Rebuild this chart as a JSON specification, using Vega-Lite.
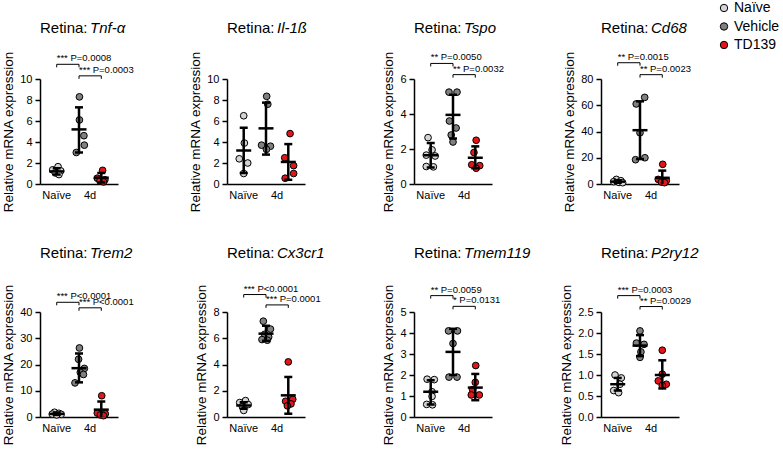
{
  "$schema": "https://vega.github.io/schema/vega-lite/v6.json",
  "padding": {"left": 1, "top": 1, "right": 5, "bottom": 5},
  "datasets": {
    "pts": [
      {"gene":"Tnf-α","group":"Naïve","value":1.65,"jitter":0.3},
      {"gene":"Tnf-α","group":"Naïve","value":1.35,"jitter":-0.9},
      {"gene":"Tnf-α","group":"Naïve","value":1.25,"jitter":0.9},
      {"gene":"Tnf-α","group":"Naïve","value":1.05,"jitter":-0.3},
      {"gene":"Tnf-α","group":"Naïve","value":0.9,"jitter":0.5},
      {"gene":"Tnf-α","group":"Vehicle","value":8.3,"jitter":0.1},
      {"gene":"Tnf-α","group":"Vehicle","value":6.1,"jitter":0.1},
      {"gene":"Tnf-α","group":"Vehicle","value":4.6,"jitter":1.1},
      {"gene":"Tnf-α","group":"Vehicle","value":3.7,"jitter":1.2},
      {"gene":"Tnf-α","group":"Vehicle","value":3.0,"jitter":-0.6},
      {"gene":"Tnf-α","group":"TD139","value":1.3,"jitter":0.3},
      {"gene":"Tnf-α","group":"TD139","value":0.55,"jitter":-0.9},
      {"gene":"Tnf-α","group":"TD139","value":0.4,"jitter":0.8},
      {"gene":"Tnf-α","group":"TD139","value":0.3,"jitter":-0.3},
      {"gene":"Tnf-α","group":"TD139","value":0.2,"jitter":0.5},
      {"gene":"Il-1ß","group":"Naïve","value":6.5,"jitter":0},
      {"gene":"Il-1ß","group":"Naïve","value":3.9,"jitter":0.15},
      {"gene":"Il-1ß","group":"Naïve","value":2.4,"jitter":-1.0},
      {"gene":"Il-1ß","group":"Naïve","value":2.0,"jitter":0.9},
      {"gene":"Il-1ß","group":"Naïve","value":1.0,"jitter":0},
      {"gene":"Il-1ß","group":"Vehicle","value":8.35,"jitter":0.15},
      {"gene":"Il-1ß","group":"Vehicle","value":7.6,"jitter":0.4},
      {"gene":"Il-1ß","group":"Vehicle","value":3.7,"jitter":-1.0},
      {"gene":"Il-1ß","group":"Vehicle","value":3.6,"jitter":1.0},
      {"gene":"Il-1ß","group":"Vehicle","value":3.3,"jitter":0.1},
      {"gene":"Il-1ß","group":"TD139","value":4.8,"jitter":0.4},
      {"gene":"Il-1ß","group":"TD139","value":2.5,"jitter":-0.8},
      {"gene":"Il-1ß","group":"TD139","value":1.75,"jitter":1.2},
      {"gene":"Il-1ß","group":"TD139","value":1.0,"jitter":1.2},
      {"gene":"Il-1ß","group":"TD139","value":0.55,"jitter":-0.7},
      {"gene":"Tspo","group":"Naïve","value":2.65,"jitter":-0.6},
      {"gene":"Tspo","group":"Naïve","value":1.95,"jitter":0.3},
      {"gene":"Tspo","group":"Naïve","value":1.65,"jitter":-1.0},
      {"gene":"Tspo","group":"Naïve","value":1.6,"jitter":1.0},
      {"gene":"Tspo","group":"Naïve","value":1.0,"jitter":-1.0},
      {"gene":"Tspo","group":"Naïve","value":0.98,"jitter":0.6},
      {"gene":"Tspo","group":"Vehicle","value":5.25,"jitter":-0.9},
      {"gene":"Tspo","group":"Vehicle","value":5.25,"jitter":0.9},
      {"gene":"Tspo","group":"Vehicle","value":3.6,"jitter":-0.8},
      {"gene":"Tspo","group":"Vehicle","value":3.2,"jitter":0.7},
      {"gene":"Tspo","group":"Vehicle","value":2.8,"jitter":-0.4},
      {"gene":"Tspo","group":"Vehicle","value":2.4,"jitter":0},
      {"gene":"Tspo","group":"TD139","value":2.5,"jitter":0.2},
      {"gene":"Tspo","group":"TD139","value":1.8,"jitter":-0.3},
      {"gene":"Tspo","group":"TD139","value":1.1,"jitter":-0.8},
      {"gene":"Tspo","group":"TD139","value":1.05,"jitter":1.0},
      {"gene":"Tspo","group":"TD139","value":0.9,"jitter":0.2},
      {"gene":"Cd68","group":"Naïve","value":3.5,"jitter":-0.3},
      {"gene":"Cd68","group":"Naïve","value":2.5,"jitter":0.7},
      {"gene":"Cd68","group":"Naïve","value":1.8,"jitter":-0.9},
      {"gene":"Cd68","group":"Naïve","value":1.2,"jitter":0.3},
      {"gene":"Cd68","group":"Naïve","value":1.0,"jitter":1.1},
      {"gene":"Cd68","group":"Vehicle","value":66,"jitter":1.05},
      {"gene":"Cd68","group":"Vehicle","value":61,"jitter":-0.85},
      {"gene":"Cd68","group":"Vehicle","value":39,"jitter":0},
      {"gene":"Cd68","group":"Vehicle","value":20,"jitter":1.1},
      {"gene":"Cd68","group":"Vehicle","value":18.5,"jitter":-1.0},
      {"gene":"Cd68","group":"TD139","value":15,"jitter":0.1},
      {"gene":"Cd68","group":"TD139","value":3.5,"jitter":-0.9},
      {"gene":"Cd68","group":"TD139","value":2.5,"jitter":0.9},
      {"gene":"Cd68","group":"TD139","value":1.5,"jitter":-0.2},
      {"gene":"Cd68","group":"TD139","value":1.0,"jitter":0.5},
      {"gene":"Trem2","group":"Naïve","value":1.8,"jitter":-0.5},
      {"gene":"Trem2","group":"Naïve","value":1.4,"jitter":0.5},
      {"gene":"Trem2","group":"Naïve","value":1.1,"jitter":-1.0},
      {"gene":"Trem2","group":"Naïve","value":1.0,"jitter":1.0},
      {"gene":"Trem2","group":"Naïve","value":0.8,"jitter":0},
      {"gene":"Trem2","group":"Vehicle","value":26.3,"jitter":0.1},
      {"gene":"Trem2","group":"Vehicle","value":22,"jitter":-0.1},
      {"gene":"Trem2","group":"Vehicle","value":18.5,"jitter":1.2},
      {"gene":"Trem2","group":"Vehicle","value":17,"jitter":0.3},
      {"gene":"Trem2","group":"Vehicle","value":16.2,"jitter":1.0},
      {"gene":"Trem2","group":"Vehicle","value":13,"jitter":-0.9},
      {"gene":"Trem2","group":"TD139","value":8.1,"jitter":0.1},
      {"gene":"Trem2","group":"TD139","value":1.5,"jitter":-0.9},
      {"gene":"Trem2","group":"TD139","value":1.2,"jitter":0.9},
      {"gene":"Trem2","group":"TD139","value":0.8,"jitter":-0.2},
      {"gene":"Trem2","group":"TD139","value":0.5,"jitter":0.5},
      {"gene":"Cx3cr1","group":"Naïve","value":1.25,"jitter":0.4},
      {"gene":"Cx3cr1","group":"Naïve","value":1.1,"jitter":-0.9},
      {"gene":"Cx3cr1","group":"Naïve","value":0.95,"jitter":1.0},
      {"gene":"Cx3cr1","group":"Naïve","value":0.8,"jitter":-0.3},
      {"gene":"Cx3cr1","group":"Naïve","value":0.5,"jitter":0},
      {"gene":"Cx3cr1","group":"Vehicle","value":7.3,"jitter":-0.6},
      {"gene":"Cx3cr1","group":"Vehicle","value":6.7,"jitter":1.0},
      {"gene":"Cx3cr1","group":"Vehicle","value":6.3,"jitter":-0.3},
      {"gene":"Cx3cr1","group":"Vehicle","value":6.1,"jitter":0.6},
      {"gene":"Cx3cr1","group":"Vehicle","value":5.9,"jitter":-0.9},
      {"gene":"Cx3cr1","group":"Vehicle","value":5.85,"jitter":0.3},
      {"gene":"Cx3cr1","group":"TD139","value":4.2,"jitter":0},
      {"gene":"Cx3cr1","group":"TD139","value":1.35,"jitter":1.0},
      {"gene":"Cx3cr1","group":"TD139","value":1.2,"jitter":-0.6},
      {"gene":"Cx3cr1","group":"TD139","value":1.0,"jitter":0.6},
      {"gene":"Cx3cr1","group":"TD139","value":0.85,"jitter":-0.2},
      {"gene":"Tmem119","group":"Naïve","value":1.8,"jitter":-0.8},
      {"gene":"Tmem119","group":"Naïve","value":1.78,"jitter":0.8},
      {"gene":"Tmem119","group":"Naïve","value":1.2,"jitter":0.3},
      {"gene":"Tmem119","group":"Naïve","value":0.98,"jitter":0.3},
      {"gene":"Tmem119","group":"Naïve","value":0.6,"jitter":-0.9},
      {"gene":"Tmem119","group":"Naïve","value":0.58,"jitter":0.4},
      {"gene":"Tmem119","group":"Vehicle","value":4.1,"jitter":-1.0},
      {"gene":"Tmem119","group":"Vehicle","value":4.1,"jitter":1.0},
      {"gene":"Tmem119","group":"Vehicle","value":3.5,"jitter":0},
      {"gene":"Tmem119","group":"Vehicle","value":1.9,"jitter":-0.9},
      {"gene":"Tmem119","group":"Vehicle","value":1.9,"jitter":0.9},
      {"gene":"Tmem119","group":"TD139","value":2.45,"jitter":0.1},
      {"gene":"Tmem119","group":"TD139","value":1.65,"jitter":0},
      {"gene":"Tmem119","group":"TD139","value":1.3,"jitter":-0.6},
      {"gene":"Tmem119","group":"TD139","value":1.05,"jitter":-0.9},
      {"gene":"Tmem119","group":"TD139","value":1.05,"jitter":0.9},
      {"gene":"P2ry12","group":"Naïve","value":1.0,"jitter":-0.6},
      {"gene":"P2ry12","group":"Naïve","value":0.93,"jitter":0.8},
      {"gene":"P2ry12","group":"Naïve","value":0.78,"jitter":0.5},
      {"gene":"P2ry12","group":"Naïve","value":0.63,"jitter":-0.9},
      {"gene":"P2ry12","group":"Naïve","value":0.58,"jitter":0.2},
      {"gene":"P2ry12","group":"Vehicle","value":2.05,"jitter":0},
      {"gene":"P2ry12","group":"Vehicle","value":1.76,"jitter":-0.8},
      {"gene":"P2ry12","group":"Vehicle","value":1.73,"jitter":0.9},
      {"gene":"P2ry12","group":"Vehicle","value":1.55,"jitter":0.2},
      {"gene":"P2ry12","group":"Vehicle","value":1.42,"jitter":0},
      {"gene":"P2ry12","group":"TD139","value":1.59,"jitter":0},
      {"gene":"P2ry12","group":"TD139","value":1.02,"jitter":0},
      {"gene":"P2ry12","group":"TD139","value":0.86,"jitter":-0.9},
      {"gene":"P2ry12","group":"TD139","value":0.78,"jitter":0.9},
      {"gene":"P2ry12","group":"TD139","value":0.75,"jitter":0}
    ],
    "summary": [
      {"gene":"Tnf-α","group":"Naïve","mean":1.2,"lo":0.9,"hi":1.5},
      {"gene":"Tnf-α","group":"Vehicle","mean":5.2,"lo":3.0,"hi":7.3},
      {"gene":"Tnf-α","group":"TD139","mean":0.6,"lo":0.15,"hi":1.05},
      {"gene":"Il-1ß","group":"Naïve","mean":3.2,"lo":1.05,"hi":5.35},
      {"gene":"Il-1ß","group":"Vehicle","mean":5.3,"lo":2.8,"hi":7.75},
      {"gene":"Il-1ß","group":"TD139","mean":2.1,"lo":0.4,"hi":3.8},
      {"gene":"Tspo","group":"Naïve","mean":1.65,"lo":0.95,"hi":2.35},
      {"gene":"Tspo","group":"Vehicle","mean":3.95,"lo":2.6,"hi":5.1},
      {"gene":"Tspo","group":"TD139","mean":1.5,"lo":0.9,"hi":2.15},
      {"gene":"Cd68","group":"Naïve","mean":1.8,"lo":0.8,"hi":2.8},
      {"gene":"Cd68","group":"Vehicle","mean":41,"lo":19,"hi":63},
      {"gene":"Cd68","group":"TD139","mean":4.7,"lo":-1.0,"hi":10.2},
      {"gene":"Trem2","group":"Naïve","mean":1.2,"lo":0.8,"hi":1.6},
      {"gene":"Trem2","group":"Vehicle","mean":18.6,"lo":13.2,"hi":24.2},
      {"gene":"Trem2","group":"TD139","mean":2.8,"lo":-0.4,"hi":5.9},
      {"gene":"Cx3cr1","group":"Naïve","mean":0.88,"lo":0.62,"hi":1.12},
      {"gene":"Cx3cr1","group":"Vehicle","mean":6.35,"lo":5.8,"hi":6.95},
      {"gene":"Cx3cr1","group":"TD139","mean":1.65,"lo":0.25,"hi":3.05},
      {"gene":"Tmem119","group":"Naïve","mean":1.2,"lo":0.6,"hi":1.75},
      {"gene":"Tmem119","group":"Vehicle","mean":3.1,"lo":2.0,"hi":4.2},
      {"gene":"Tmem119","group":"TD139","mean":1.4,"lo":0.8,"hi":2.05},
      {"gene":"P2ry12","group":"Naïve","mean":0.78,"lo":0.63,"hi":0.93},
      {"gene":"P2ry12","group":"Vehicle","mean":1.7,"lo":1.45,"hi":1.95},
      {"gene":"P2ry12","group":"TD139","mean":1.0,"lo":0.68,"hi":1.35}
    ],
    "ann": [
      {"gene":"Tnf-α","from":"Naïve","to":"Vehicle","y":11.4,"label":"*** P=0.0008"},
      {"gene":"Tnf-α","from":"Vehicle","to":"TD139","y":10.3,"label":"*** P=0.0003"},
      {"gene":"Tspo","from":"Naïve","to":"Vehicle","y":6.89,"label":"** P=0.0050"},
      {"gene":"Tspo","from":"Vehicle","to":"TD139","y":6.25,"label":"** P=0.0032"},
      {"gene":"Cd68","from":"Naïve","to":"Vehicle","y":92.4,"label":"** P=0.0015"},
      {"gene":"Cd68","from":"Vehicle","to":"TD139","y":83.3,"label":"** P=0.0023"},
      {"gene":"Trem2","from":"Naïve","to":"Vehicle","y":43.7,"label":"*** P<0.0001"},
      {"gene":"Trem2","from":"Vehicle","to":"TD139","y":41.6,"label":"*** P<0.0001"},
      {"gene":"Cx3cr1","from":"Naïve","to":"Vehicle","y":9.33,"label":"*** P<0.0001"},
      {"gene":"Cx3cr1","from":"Vehicle","to":"TD139","y":8.54,"label":"*** P=0.0001"},
      {"gene":"Tmem119","from":"Naïve","to":"Vehicle","y":5.78,"label":"** P=0.0059"},
      {"gene":"Tmem119","from":"Vehicle","to":"TD139","y":5.27,"label":"* P=0.0131"},
      {"gene":"P2ry12","from":"Naïve","to":"Vehicle","y":2.89,"label":"*** P=0.0003"},
      {"gene":"P2ry12","from":"Vehicle","to":"TD139","y":2.63,"label":"** P=0.0029"}
    ]
  },
  "columns": 4,
  "spacing": {"row": 128, "column": 109},
  "bounds": "flush",
  "resolve": {"scale": {"x": "independent", "y": "independent", "xOffset": "independent"}},
  "concat": [
    {
      "width": 78, "height": 105,
      "title": {"text": "Retina:", "subtitle": "\u200b\u00a0\u00a0\u00a0\u00a0\u00a0\u00a0\u00a0\u00a0\u00a0\u00a0\u00a0\u00a0Tnf-α", "offset": 15},
      "layer": [
        {"data": {"name": "pts"}, "transform": [{"filter": "datum.gene == 'Tnf-α'"}],
         "mark": {"type": "circle", "size": 45, "stroke": "black", "strokeWidth": 1, "opacity": 1},
         "encoding": {
           "x": {"field": "group", "type": "nominal", "scale": {"type": "band", "domain": ["Naïve","Vehicle","TD139"], "paddingInner": 0.5, "paddingOuter": 0.5}, "axis": {"title": null, "labelExpr": "datum.value == 'Naïve' ? 'Naïve' : datum.value == 'Vehicle' ? '4d' : ''", "labelOffset": {"condition": {"test": "datum.value == 'Vehicle'", "value": 11}, "value": 0}}},
           "xOffset": {"field": "jitter", "type": "quantitative", "scale": {"domain": [-1.25, 1.25]}},
           "y": {"field": "value", "type": "quantitative", "scale": {"domain": [0, 10], "nice": false}, "axis": {"title": "Relative mRNA expression", "values": [0,2,4,6,8,10], "tickCount": 20, "format": "d", "labelOverlap": false}},
           "color": {"field": "group", "type": "nominal", "scale": {"domain": ["Naïve","Vehicle","TD139"], "range": ["#d4d4d4","#808080","#e3151b"]}, "legend": {"orient": "none", "legendX": 677, "legendY": -78, "title": null}}
         }},
        {"data": {"name": "summary"}, "transform": [{"filter": "datum.gene == 'Tnf-α'"}],
         "mark": {"type": "rule", "strokeWidth": 2.5, "color": "black", "clip": true},
         "encoding": {"x": {"field": "group", "type": "nominal"}, "y": {"field": "lo", "type": "quantitative"}, "y2": {"field": "hi"}}},
        {"data": {"name": "summary"}, "transform": [{"filter": "datum.gene == 'Tnf-α'"}, {"fold": ["lo", "hi"], "as": ["end", "v"]}],
         "mark": {"type": "tick", "size": 8, "thickness": 2.5, "color": "black", "opacity": 1, "clip": true},
         "encoding": {"x": {"field": "group", "type": "nominal"}, "y": {"field": "v", "type": "quantitative"}}},
        {"data": {"name": "summary"}, "transform": [{"filter": "datum.gene == 'Tnf-α'"}],
         "mark": {"type": "tick", "size": 15, "thickness": 2.5, "color": "black", "opacity": 1},
         "encoding": {"x": {"field": "group", "type": "nominal"}, "y": {"field": "mean", "type": "quantitative"}}},
        {"data": {"name": "ann"}, "transform": [{"filter": "datum.gene == 'Tnf-α'"}],
         "mark": {"type": "rule", "strokeWidth": 1, "color": "black"},
         "encoding": {"x": {"field": "from", "type": "nominal"}, "x2": {"field": "to"}, "y": {"field": "y", "type": "quantitative"}}},
        {"data": {"name": "ann"}, "transform": [{"filter": "datum.gene == 'Tnf-α'"}, {"fold": ["from", "to"], "as": ["side", "g"]}],
         "mark": {"type": "point", "shape": "M0,0L0,1", "size": 36, "stroke": "black", "strokeWidth": 1, "filled": false, "opacity": 1},
         "encoding": {"x": {"field": "g", "type": "nominal"}, "y": {"field": "y", "type": "quantitative"}}},
        {"data": {"name": "ann"}, "transform": [{"filter": "datum.gene == 'Tnf-α'"}],
         "mark": {"type": "text", "align": "left", "baseline": "bottom", "dy": -1, "fontSize": 9.5, "color": "black"},
         "encoding": {"x": {"field": "from", "type": "nominal"}, "y": {"field": "y", "type": "quantitative"}, "text": {"field": "label"}}}
      ]
    },
    {
      "width": 78, "height": 105,
      "title": {"text": "Retina:", "subtitle": "\u200b\u00a0\u00a0\u00a0\u00a0\u00a0\u00a0\u00a0\u00a0\u00a0\u00a0\u00a0\u00a0Il-1ß", "offset": 15},
      "layer": [
        {"data": {"name": "pts"}, "transform": [{"filter": "datum.gene == 'Il-1ß'"}],
         "mark": {"type": "circle", "size": 45, "stroke": "black", "strokeWidth": 1, "opacity": 1},
         "encoding": {
           "x": {"field": "group", "type": "nominal", "scale": {"type": "band", "domain": ["Naïve","Vehicle","TD139"], "paddingInner": 0.5, "paddingOuter": 0.5}, "axis": {"title": null, "labelExpr": "datum.value == 'Naïve' ? 'Naïve' : datum.value == 'Vehicle' ? '4d' : ''", "labelOffset": {"condition": {"test": "datum.value == 'Vehicle'", "value": 11}, "value": 0}}},
           "xOffset": {"field": "jitter", "type": "quantitative", "scale": {"domain": [-1.25, 1.25]}},
           "y": {"field": "value", "type": "quantitative", "scale": {"domain": [0, 10], "nice": false}, "axis": {"title": "Relative mRNA expression", "values": [0,2,4,6,8,10], "tickCount": 20, "format": "d", "labelOverlap": false}},
           "color": {"field": "group", "type": "nominal"}
         }},
        {"data": {"name": "summary"}, "transform": [{"filter": "datum.gene == 'Il-1ß'"}],
         "mark": {"type": "rule", "strokeWidth": 2.5, "color": "black", "clip": true},
         "encoding": {"x": {"field": "group", "type": "nominal"}, "y": {"field": "lo", "type": "quantitative"}, "y2": {"field": "hi"}}},
        {"data": {"name": "summary"}, "transform": [{"filter": "datum.gene == 'Il-1ß'"}, {"fold": ["lo", "hi"], "as": ["end", "v"]}],
         "mark": {"type": "tick", "size": 8, "thickness": 2.5, "color": "black", "opacity": 1, "clip": true},
         "encoding": {"x": {"field": "group", "type": "nominal"}, "y": {"field": "v", "type": "quantitative"}}},
        {"data": {"name": "summary"}, "transform": [{"filter": "datum.gene == 'Il-1ß'"}],
         "mark": {"type": "tick", "size": 15, "thickness": 2.5, "color": "black", "opacity": 1},
         "encoding": {"x": {"field": "group", "type": "nominal"}, "y": {"field": "mean", "type": "quantitative"}}}
      ]
    },
    {
      "width": 78, "height": 105,
      "title": {"text": "Retina:", "subtitle": "\u200b\u00a0\u00a0\u00a0\u00a0\u00a0\u00a0\u00a0\u00a0\u00a0\u00a0\u00a0\u00a0Tspo", "offset": 15},
      "layer": [
        {"data": {"name": "pts"}, "transform": [{"filter": "datum.gene == 'Tspo'"}],
         "mark": {"type": "circle", "size": 45, "stroke": "black", "strokeWidth": 1, "opacity": 1},
         "encoding": {
           "x": {"field": "group", "type": "nominal", "scale": {"type": "band", "domain": ["Naïve","Vehicle","TD139"], "paddingInner": 0.5, "paddingOuter": 0.5}, "axis": {"title": null, "labelExpr": "datum.value == 'Naïve' ? 'Naïve' : datum.value == 'Vehicle' ? '4d' : ''", "labelOffset": {"condition": {"test": "datum.value == 'Vehicle'", "value": 11}, "value": 0}}},
           "xOffset": {"field": "jitter", "type": "quantitative", "scale": {"domain": [-1.25, 1.25]}},
           "y": {"field": "value", "type": "quantitative", "scale": {"domain": [0, 6], "nice": false}, "axis": {"title": "Relative mRNA expression", "values": [0,2,4,6], "tickCount": 20, "format": "d", "labelOverlap": false}},
           "color": {"field": "group", "type": "nominal"}
         }},
        {"data": {"name": "summary"}, "transform": [{"filter": "datum.gene == 'Tspo'"}],
         "mark": {"type": "rule", "strokeWidth": 2.5, "color": "black", "clip": true},
         "encoding": {"x": {"field": "group", "type": "nominal"}, "y": {"field": "lo", "type": "quantitative"}, "y2": {"field": "hi"}}},
        {"data": {"name": "summary"}, "transform": [{"filter": "datum.gene == 'Tspo'"}, {"fold": ["lo", "hi"], "as": ["end", "v"]}],
         "mark": {"type": "tick", "size": 8, "thickness": 2.5, "color": "black", "opacity": 1, "clip": true},
         "encoding": {"x": {"field": "group", "type": "nominal"}, "y": {"field": "v", "type": "quantitative"}}},
        {"data": {"name": "summary"}, "transform": [{"filter": "datum.gene == 'Tspo'"}],
         "mark": {"type": "tick", "size": 15, "thickness": 2.5, "color": "black", "opacity": 1},
         "encoding": {"x": {"field": "group", "type": "nominal"}, "y": {"field": "mean", "type": "quantitative"}}},
        {"data": {"name": "ann"}, "transform": [{"filter": "datum.gene == 'Tspo'"}],
         "mark": {"type": "rule", "strokeWidth": 1, "color": "black"},
         "encoding": {"x": {"field": "from", "type": "nominal"}, "x2": {"field": "to"}, "y": {"field": "y", "type": "quantitative"}}},
        {"data": {"name": "ann"}, "transform": [{"filter": "datum.gene == 'Tspo'"}, {"fold": ["from", "to"], "as": ["side", "g"]}],
         "mark": {"type": "point", "shape": "M0,0L0,1", "size": 36, "stroke": "black", "strokeWidth": 1, "filled": false, "opacity": 1},
         "encoding": {"x": {"field": "g", "type": "nominal"}, "y": {"field": "y", "type": "quantitative"}}},
        {"data": {"name": "ann"}, "transform": [{"filter": "datum.gene == 'Tspo'"}],
         "mark": {"type": "text", "align": "left", "baseline": "bottom", "dy": -1, "fontSize": 9.5, "color": "black"},
         "encoding": {"x": {"field": "from", "type": "nominal"}, "y": {"field": "y", "type": "quantitative"}, "text": {"field": "label"}}}
      ]
    },
    {
      "width": 78, "height": 105,
      "title": {"text": "Retina:", "subtitle": "\u200b\u00a0\u00a0\u00a0\u00a0\u00a0\u00a0\u00a0\u00a0\u00a0\u00a0\u00a0\u00a0Cd68", "offset": 15},
      "layer": [
        {"data": {"name": "pts"}, "transform": [{"filter": "datum.gene == 'Cd68'"}],
         "mark": {"type": "circle", "size": 45, "stroke": "black", "strokeWidth": 1, "opacity": 1},
         "encoding": {
           "x": {"field": "group", "type": "nominal", "scale": {"type": "band", "domain": ["Naïve","Vehicle","TD139"], "paddingInner": 0.5, "paddingOuter": 0.5}, "axis": {"title": null, "labelExpr": "datum.value == 'Naïve' ? 'Naïve' : datum.value == 'Vehicle' ? '4d' : ''", "labelOffset": {"condition": {"test": "datum.value == 'Vehicle'", "value": 11}, "value": 0}}},
           "xOffset": {"field": "jitter", "type": "quantitative", "scale": {"domain": [-1.25, 1.25]}},
           "y": {"field": "value", "type": "quantitative", "scale": {"domain": [0, 80], "nice": false}, "axis": {"title": "Relative mRNA expression", "values": [0,20,40,60,80], "tickCount": 20, "format": "d", "labelOverlap": false}},
           "color": {"field": "group", "type": "nominal"}
         }},
        {"data": {"name": "summary"}, "transform": [{"filter": "datum.gene == 'Cd68'"}],
         "mark": {"type": "rule", "strokeWidth": 2.5, "color": "black", "clip": true},
         "encoding": {"x": {"field": "group", "type": "nominal"}, "y": {"field": "lo", "type": "quantitative"}, "y2": {"field": "hi"}}},
        {"data": {"name": "summary"}, "transform": [{"filter": "datum.gene == 'Cd68'"}, {"fold": ["lo", "hi"], "as": ["end", "v"]}],
         "mark": {"type": "tick", "size": 8, "thickness": 2.5, "color": "black", "opacity": 1, "clip": true},
         "encoding": {"x": {"field": "group", "type": "nominal"}, "y": {"field": "v", "type": "quantitative"}}},
        {"data": {"name": "summary"}, "transform": [{"filter": "datum.gene == 'Cd68'"}],
         "mark": {"type": "tick", "size": 15, "thickness": 2.5, "color": "black", "opacity": 1},
         "encoding": {"x": {"field": "group", "type": "nominal"}, "y": {"field": "mean", "type": "quantitative"}}},
        {"data": {"name": "ann"}, "transform": [{"filter": "datum.gene == 'Cd68'"}],
         "mark": {"type": "rule", "strokeWidth": 1, "color": "black"},
         "encoding": {"x": {"field": "from", "type": "nominal"}, "x2": {"field": "to"}, "y": {"field": "y", "type": "quantitative"}}},
        {"data": {"name": "ann"}, "transform": [{"filter": "datum.gene == 'Cd68'"}, {"fold": ["from", "to"], "as": ["side", "g"]}],
         "mark": {"type": "point", "shape": "M0,0L0,1", "size": 36, "stroke": "black", "strokeWidth": 1, "filled": false, "opacity": 1},
         "encoding": {"x": {"field": "g", "type": "nominal"}, "y": {"field": "y", "type": "quantitative"}}},
        {"data": {"name": "ann"}, "transform": [{"filter": "datum.gene == 'Cd68'"}],
         "mark": {"type": "text", "align": "left", "baseline": "bottom", "dy": -1, "fontSize": 9.5, "color": "black"},
         "encoding": {"x": {"field": "from", "type": "nominal"}, "y": {"field": "y", "type": "quantitative"}, "text": {"field": "label"}}}
      ]
    },
    {
      "width": 78, "height": 105,
      "title": {"text": "Retina:", "subtitle": "\u200b\u00a0\u00a0\u00a0\u00a0\u00a0\u00a0\u00a0\u00a0\u00a0\u00a0\u00a0\u00a0Trem2", "offset": 23},
      "layer": [
        {"data": {"name": "pts"}, "transform": [{"filter": "datum.gene == 'Trem2'"}],
         "mark": {"type": "circle", "size": 45, "stroke": "black", "strokeWidth": 1, "opacity": 1},
         "encoding": {
           "x": {"field": "group", "type": "nominal", "scale": {"type": "band", "domain": ["Naïve","Vehicle","TD139"], "paddingInner": 0.5, "paddingOuter": 0.5}, "axis": {"title": null, "labelExpr": "datum.value == 'Naïve' ? 'Naïve' : datum.value == 'Vehicle' ? '4d' : ''", "labelOffset": {"condition": {"test": "datum.value == 'Vehicle'", "value": 11}, "value": 0}}},
           "xOffset": {"field": "jitter", "type": "quantitative", "scale": {"domain": [-1.25, 1.25]}},
           "y": {"field": "value", "type": "quantitative", "scale": {"domain": [0, 40], "nice": false}, "axis": {"title": "Relative mRNA expression", "values": [0,10,20,30,40], "tickCount": 20, "format": "d", "labelOverlap": false}},
           "color": {"field": "group", "type": "nominal"}
         }},
        {"data": {"name": "summary"}, "transform": [{"filter": "datum.gene == 'Trem2'"}],
         "mark": {"type": "rule", "strokeWidth": 2.5, "color": "black", "clip": true},
         "encoding": {"x": {"field": "group", "type": "nominal"}, "y": {"field": "lo", "type": "quantitative"}, "y2": {"field": "hi"}}},
        {"data": {"name": "summary"}, "transform": [{"filter": "datum.gene == 'Trem2'"}, {"fold": ["lo", "hi"], "as": ["end", "v"]}],
         "mark": {"type": "tick", "size": 8, "thickness": 2.5, "color": "black", "opacity": 1, "clip": true},
         "encoding": {"x": {"field": "group", "type": "nominal"}, "y": {"field": "v", "type": "quantitative"}}},
        {"data": {"name": "summary"}, "transform": [{"filter": "datum.gene == 'Trem2'"}],
         "mark": {"type": "tick", "size": 15, "thickness": 2.5, "color": "black", "opacity": 1},
         "encoding": {"x": {"field": "group", "type": "nominal"}, "y": {"field": "mean", "type": "quantitative"}}},
        {"data": {"name": "ann"}, "transform": [{"filter": "datum.gene == 'Trem2'"}],
         "mark": {"type": "rule", "strokeWidth": 1, "color": "black"},
         "encoding": {"x": {"field": "from", "type": "nominal"}, "x2": {"field": "to"}, "y": {"field": "y", "type": "quantitative"}}},
        {"data": {"name": "ann"}, "transform": [{"filter": "datum.gene == 'Trem2'"}, {"fold": ["from", "to"], "as": ["side", "g"]}],
         "mark": {"type": "point", "shape": "M0,0L0,1", "size": 36, "stroke": "black", "strokeWidth": 1, "filled": false, "opacity": 1},
         "encoding": {"x": {"field": "g", "type": "nominal"}, "y": {"field": "y", "type": "quantitative"}}},
        {"data": {"name": "ann"}, "transform": [{"filter": "datum.gene == 'Trem2'"}],
         "mark": {"type": "text", "align": "left", "baseline": "bottom", "dy": -1, "fontSize": 9.5, "color": "black"},
         "encoding": {"x": {"field": "from", "type": "nominal"}, "y": {"field": "y", "type": "quantitative"}, "text": {"field": "label"}}}
      ]
    },
    {
      "width": 78, "height": 105,
      "title": {"text": "Retina:", "subtitle": "\u200b\u00a0\u00a0\u00a0\u00a0\u00a0\u00a0\u00a0\u00a0\u00a0\u00a0\u00a0\u00a0Cx3cr1", "offset": 23},
      "layer": [
        {"data": {"name": "pts"}, "transform": [{"filter": "datum.gene == 'Cx3cr1'"}],
         "mark": {"type": "circle", "size": 45, "stroke": "black", "strokeWidth": 1, "opacity": 1},
         "encoding": {
           "x": {"field": "group", "type": "nominal", "scale": {"type": "band", "domain": ["Naïve","Vehicle","TD139"], "paddingInner": 0.5, "paddingOuter": 0.5}, "axis": {"title": null, "labelExpr": "datum.value == 'Naïve' ? 'Naïve' : datum.value == 'Vehicle' ? '4d' : ''", "labelOffset": {"condition": {"test": "datum.value == 'Vehicle'", "value": 11}, "value": 0}}},
           "xOffset": {"field": "jitter", "type": "quantitative", "scale": {"domain": [-1.25, 1.25]}},
           "y": {"field": "value", "type": "quantitative", "scale": {"domain": [0, 8], "nice": false}, "axis": {"title": "Relative mRNA expression", "values": [0,2,4,6,8], "tickCount": 20, "format": "d", "labelOverlap": false}},
           "color": {"field": "group", "type": "nominal"}
         }},
        {"data": {"name": "summary"}, "transform": [{"filter": "datum.gene == 'Cx3cr1'"}],
         "mark": {"type": "rule", "strokeWidth": 2.5, "color": "black", "clip": true},
         "encoding": {"x": {"field": "group", "type": "nominal"}, "y": {"field": "lo", "type": "quantitative"}, "y2": {"field": "hi"}}},
        {"data": {"name": "summary"}, "transform": [{"filter": "datum.gene == 'Cx3cr1'"}, {"fold": ["lo", "hi"], "as": ["end", "v"]}],
         "mark": {"type": "tick", "size": 8, "thickness": 2.5, "color": "black", "opacity": 1, "clip": true},
         "encoding": {"x": {"field": "group", "type": "nominal"}, "y": {"field": "v", "type": "quantitative"}}},
        {"data": {"name": "summary"}, "transform": [{"filter": "datum.gene == 'Cx3cr1'"}],
         "mark": {"type": "tick", "size": 15, "thickness": 2.5, "color": "black", "opacity": 1},
         "encoding": {"x": {"field": "group", "type": "nominal"}, "y": {"field": "mean", "type": "quantitative"}}},
        {"data": {"name": "ann"}, "transform": [{"filter": "datum.gene == 'Cx3cr1'"}],
         "mark": {"type": "rule", "strokeWidth": 1, "color": "black"},
         "encoding": {"x": {"field": "from", "type": "nominal"}, "x2": {"field": "to"}, "y": {"field": "y", "type": "quantitative"}}},
        {"data": {"name": "ann"}, "transform": [{"filter": "datum.gene == 'Cx3cr1'"}, {"fold": ["from", "to"], "as": ["side", "g"]}],
         "mark": {"type": "point", "shape": "M0,0L0,1", "size": 36, "stroke": "black", "strokeWidth": 1, "filled": false, "opacity": 1},
         "encoding": {"x": {"field": "g", "type": "nominal"}, "y": {"field": "y", "type": "quantitative"}}},
        {"data": {"name": "ann"}, "transform": [{"filter": "datum.gene == 'Cx3cr1'"}],
         "mark": {"type": "text", "align": "left", "baseline": "bottom", "dy": -1, "fontSize": 9.5, "color": "black"},
         "encoding": {"x": {"field": "from", "type": "nominal"}, "y": {"field": "y", "type": "quantitative"}, "text": {"field": "label"}}}
      ]
    },
    {
      "width": 78, "height": 105,
      "title": {"text": "Retina:", "subtitle": "\u200b\u00a0\u00a0\u00a0\u00a0\u00a0\u00a0\u00a0\u00a0\u00a0\u00a0\u00a0\u00a0Tmem119", "offset": 23},
      "layer": [
        {"data": {"name": "pts"}, "transform": [{"filter": "datum.gene == 'Tmem119'"}],
         "mark": {"type": "circle", "size": 45, "stroke": "black", "strokeWidth": 1, "opacity": 1},
         "encoding": {
           "x": {"field": "group", "type": "nominal", "scale": {"type": "band", "domain": ["Naïve","Vehicle","TD139"], "paddingInner": 0.5, "paddingOuter": 0.5}, "axis": {"title": null, "labelExpr": "datum.value == 'Naïve' ? 'Naïve' : datum.value == 'Vehicle' ? '4d' : ''", "labelOffset": {"condition": {"test": "datum.value == 'Vehicle'", "value": 11}, "value": 0}}},
           "xOffset": {"field": "jitter", "type": "quantitative", "scale": {"domain": [-1.25, 1.25]}},
           "y": {"field": "value", "type": "quantitative", "scale": {"domain": [0, 5], "nice": false}, "axis": {"title": "Relative mRNA expression", "values": [0,1,2,3,4,5], "tickCount": 20, "format": "d", "labelOverlap": false}},
           "color": {"field": "group", "type": "nominal"}
         }},
        {"data": {"name": "summary"}, "transform": [{"filter": "datum.gene == 'Tmem119'"}],
         "mark": {"type": "rule", "strokeWidth": 2.5, "color": "black", "clip": true},
         "encoding": {"x": {"field": "group", "type": "nominal"}, "y": {"field": "lo", "type": "quantitative"}, "y2": {"field": "hi"}}},
        {"data": {"name": "summary"}, "transform": [{"filter": "datum.gene == 'Tmem119'"}, {"fold": ["lo", "hi"], "as": ["end", "v"]}],
         "mark": {"type": "tick", "size": 8, "thickness": 2.5, "color": "black", "opacity": 1, "clip": true},
         "encoding": {"x": {"field": "group", "type": "nominal"}, "y": {"field": "v", "type": "quantitative"}}},
        {"data": {"name": "summary"}, "transform": [{"filter": "datum.gene == 'Tmem119'"}],
         "mark": {"type": "tick", "size": 15, "thickness": 2.5, "color": "black", "opacity": 1},
         "encoding": {"x": {"field": "group", "type": "nominal"}, "y": {"field": "mean", "type": "quantitative"}}},
        {"data": {"name": "ann"}, "transform": [{"filter": "datum.gene == 'Tmem119'"}],
         "mark": {"type": "rule", "strokeWidth": 1, "color": "black"},
         "encoding": {"x": {"field": "from", "type": "nominal"}, "x2": {"field": "to"}, "y": {"field": "y", "type": "quantitative"}}},
        {"data": {"name": "ann"}, "transform": [{"filter": "datum.gene == 'Tmem119'"}, {"fold": ["from", "to"], "as": ["side", "g"]}],
         "mark": {"type": "point", "shape": "M0,0L0,1", "size": 36, "stroke": "black", "strokeWidth": 1, "filled": false, "opacity": 1},
         "encoding": {"x": {"field": "g", "type": "nominal"}, "y": {"field": "y", "type": "quantitative"}}},
        {"data": {"name": "ann"}, "transform": [{"filter": "datum.gene == 'Tmem119'"}],
         "mark": {"type": "text", "align": "left", "baseline": "bottom", "dy": -1, "fontSize": 9.5, "color": "black"},
         "encoding": {"x": {"field": "from", "type": "nominal"}, "y": {"field": "y", "type": "quantitative"}, "text": {"field": "label"}}}
      ]
    },
    {
      "width": 78, "height": 105,
      "title": {"text": "Retina:", "subtitle": "\u200b\u00a0\u00a0\u00a0\u00a0\u00a0\u00a0\u00a0\u00a0\u00a0\u00a0\u00a0\u00a0P2ry12", "offset": 23},
      "layer": [
        {"data": {"name": "pts"}, "transform": [{"filter": "datum.gene == 'P2ry12'"}],
         "mark": {"type": "circle", "size": 45, "stroke": "black", "strokeWidth": 1, "opacity": 1},
         "encoding": {
           "x": {"field": "group", "type": "nominal", "scale": {"type": "band", "domain": ["Naïve","Vehicle","TD139"], "paddingInner": 0.5, "paddingOuter": 0.5}, "axis": {"title": null, "labelExpr": "datum.value == 'Naïve' ? 'Naïve' : datum.value == 'Vehicle' ? '4d' : ''", "labelOffset": {"condition": {"test": "datum.value == 'Vehicle'", "value": 11}, "value": 0}}},
           "xOffset": {"field": "jitter", "type": "quantitative", "scale": {"domain": [-1.25, 1.25]}},
           "y": {"field": "value", "type": "quantitative", "scale": {"domain": [0, 2.5], "nice": false}, "axis": {"title": "Relative mRNA expression", "values": [0,0.5,1,1.5,2,2.5], "tickCount": 20, "labelOverlap": false, "format": ".1f"}},
           "color": {"field": "group", "type": "nominal"}
         }},
        {"data": {"name": "summary"}, "transform": [{"filter": "datum.gene == 'P2ry12'"}],
         "mark": {"type": "rule", "strokeWidth": 2.5, "color": "black", "clip": true},
         "encoding": {"x": {"field": "group", "type": "nominal"}, "y": {"field": "lo", "type": "quantitative"}, "y2": {"field": "hi"}}},
        {"data": {"name": "summary"}, "transform": [{"filter": "datum.gene == 'P2ry12'"}, {"fold": ["lo", "hi"], "as": ["end", "v"]}],
         "mark": {"type": "tick", "size": 8, "thickness": 2.5, "color": "black", "opacity": 1, "clip": true},
         "encoding": {"x": {"field": "group", "type": "nominal"}, "y": {"field": "v", "type": "quantitative"}}},
        {"data": {"name": "summary"}, "transform": [{"filter": "datum.gene == 'P2ry12'"}],
         "mark": {"type": "tick", "size": 15, "thickness": 2.5, "color": "black", "opacity": 1},
         "encoding": {"x": {"field": "group", "type": "nominal"}, "y": {"field": "mean", "type": "quantitative"}}},
        {"data": {"name": "ann"}, "transform": [{"filter": "datum.gene == 'P2ry12'"}],
         "mark": {"type": "rule", "strokeWidth": 1, "color": "black"},
         "encoding": {"x": {"field": "from", "type": "nominal"}, "x2": {"field": "to"}, "y": {"field": "y", "type": "quantitative"}}},
        {"data": {"name": "ann"}, "transform": [{"filter": "datum.gene == 'P2ry12'"}, {"fold": ["from", "to"], "as": ["side", "g"]}],
         "mark": {"type": "point", "shape": "M0,0L0,1", "size": 36, "stroke": "black", "strokeWidth": 1, "filled": false, "opacity": 1},
         "encoding": {"x": {"field": "g", "type": "nominal"}, "y": {"field": "y", "type": "quantitative"}}},
        {"data": {"name": "ann"}, "transform": [{"filter": "datum.gene == 'P2ry12'"}],
         "mark": {"type": "text", "align": "left", "baseline": "bottom", "dy": -1, "fontSize": 9.5, "color": "black"},
         "encoding": {"x": {"field": "from", "type": "nominal"}, "y": {"field": "y", "type": "quantitative"}, "text": {"field": "label"}}}
      ]
    }
  ],
  "config": {
    "font": "Liberation Sans",
    "background": "white",
    "view": {"stroke": null},
    "axis": {"grid": false, "domainColor": "black", "domainWidth": 1.5, "tickColor": "black", "tickWidth": 1.5, "tickSize": 5, "labelColor": "black", "labelFont": "Liberation Sans", "labelFontSize": 11, "labelPadding": 3, "labelOverlap": false, "labelBound": false, "labelFlush": false, "titleFont": "Liberation Sans", "titleFontSize": 13.5, "titleFontWeight": "normal", "titleColor": "black", "titlePadding": 4},
    "axisX": {"ticks": false, "labelAngle": 0, "labelPadding": 5},
    "title": {"font": "Liberation Sans", "fontSize": 15, "fontWeight": "normal", "color": "black", "anchor": "start", "frame": "group", "subtitleFont": "Liberation Sans", "subtitleFontSize": 15, "subtitleFontStyle": "italic", "subtitleColor": "black", "subtitlePadding": -15},
    "legend": {"labelFont": "Liberation Sans", "labelFontSize": 14, "labelColor": "black", "symbolType": "circle", "symbolSize": 55, "symbolStrokeColor": "black", "symbolStrokeWidth": 1, "symbolOpacity": 1, "rowPadding": 4.5, "labelOffset": 3, "padding": 0}
  }
}
